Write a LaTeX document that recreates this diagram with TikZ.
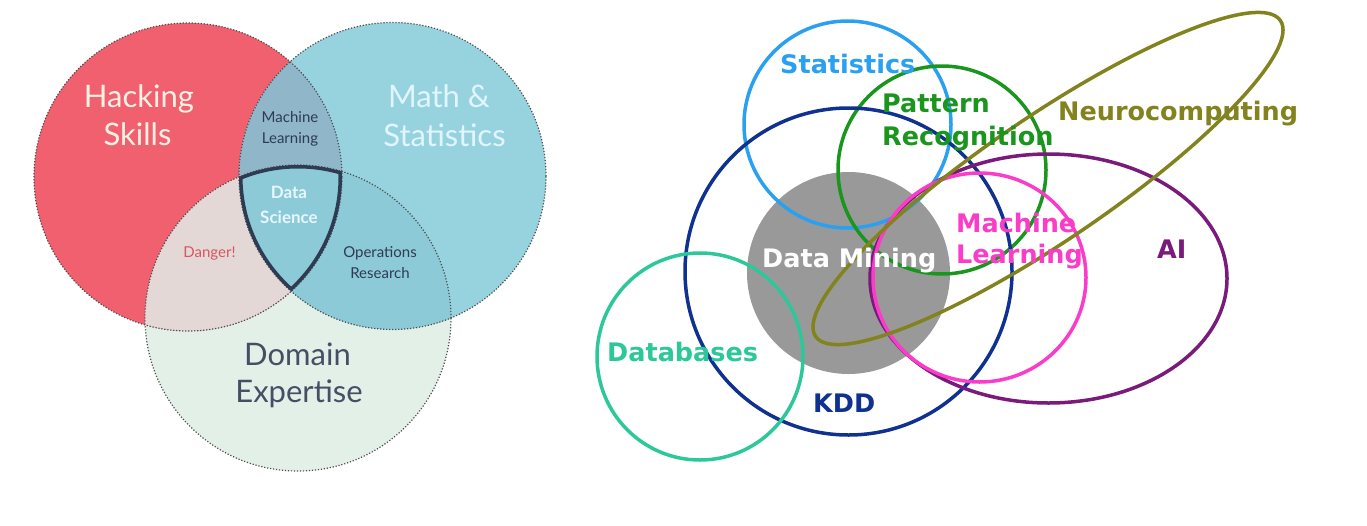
\documentclass[tikz,border=0pt]{standalone}
\usepackage{fontspec}
\newfontfamily\vennfont{Lato}
\newfontfamily\kddfont{DejaVu Sans}
\usetikzlibrary{positioning}

\definecolor{hackred}{HTML}{F0606E}
\definecolor{mathblue}{HTML}{97D3DF}
\definecolor{domgreen}{HTML}{E3F0E8}
\definecolor{mlgrey}{HTML}{8FB6C9}
\definecolor{dangergrey}{HTML}{E3D8D5}
\definecolor{orblue}{HTML}{8CCAD8}
\definecolor{inkblue}{HTML}{2F3B52}
\definecolor{statblue}{HTML}{2AA0F0}
\definecolor{patgreen}{HTML}{1A961E}
\definecolor{kddblue}{HTML}{0F3291}
\definecolor{dbteal}{HTML}{2CC89A}
\definecolor{mlpink}{HTML}{FA3CC8}
\definecolor{aipurple}{HTML}{7A1A7A}
\definecolor{neuroolive}{HTML}{82821E}

\begin{document}
\begin{tikzpicture}[x=1pt,y=-1pt,
    venn/.style={draw=black!70,dash pattern=on 1.2pt off 1.8pt,line width=1.2pt},
    big/.style={font=\vennfont\fontsize{31}{31}\selectfont,inner sep=0pt,anchor=base},
    small/.style={font=\vennfont\fontsize{15}{15}\selectfont,inner sep=0pt,anchor=base,text=inkblue},
    ring/.style={line width=3.5pt},
    tag/.style={font=\kddfont\bfseries\fontsize{25.5}{25.5}\selectfont,inner sep=0pt,anchor=base west}]

    \fill[white] (0,0) rectangle (1367,525);
    \useasboundingbox (0,0) rectangle (1367,525);

    % left: the data science venn
    \coordinate (hc) at (188,177);
    \coordinate (mc) at (392.5,176);
    \coordinate (dc) at (298,318);

    \fill[domgreen] (dc) circle[radius=153pt];
    \fill[hackred] (hc) circle[radius=154pt];
    \fill[mathblue] (mc) circle[radius=153.5pt];

    \begin{scope}
        \clip (hc) circle[radius=154pt];
        \fill[mlgrey] (mc) circle[radius=153.5pt];
        \fill[dangergrey] (dc) circle[radius=153pt];
        \clip (mc) circle[radius=153.5pt];
        \fill[orblue] (dc) circle[radius=153pt];
    \end{scope}
    \begin{scope}
        \clip (mc) circle[radius=153.5pt];
        \clip (dc) circle[radius=153pt];
        \fill[orblue] (mc) circle[radius=153.5pt];
    \end{scope}

    \draw[venn] (hc) circle[radius=154pt];
    \draw[venn] (mc) circle[radius=153.5pt];
    \draw[venn] (dc) circle[radius=153pt];

    \begin{scope}
        \clip (mc) circle[radius=153.5pt];
        \clip (dc) circle[radius=153pt];
        \clip (hc) circle[radius=154pt];
        \draw[inkblue,line width=7pt] (hc) circle[radius=154pt]
                                      (mc) circle[radius=153.5pt]
                                      (dc) circle[radius=153pt];
    \end{scope}

    \node[big,text=white!90!orange] (hack) at (139,107) {Hacking};
    \node[big,text=white!90!orange] (skills) at (137.5,145) {Skills};
    \node[big,text=white!88!cyan] (math) at (439,107) {Math \&};
    \node[big,text=white!88!cyan] (stats) at (444.5,146) {Statistics};
    \node[big,text=inkblue!90!white] (domain) at (297.5,365) {Domain};
    \node[big,text=inkblue!90!white] (expert) at (299,402) {Expertise};

    \node[small] (mach) at (290,122) {Machine};
    \node[small] (learn) at (290,143) {Learning};
    \node[small,font=\vennfont\bfseries\fontsize{17}{17}\selectfont,text=white!90!cyan] (data) at (289,198) {Data};
    \node[small,font=\vennfont\bfseries\fontsize{17}{17}\selectfont,text=white!90!cyan] (science) at (289,223) {Science};
    \node[small,text=hackred!90!black] (danger) at (209.5,257) {Danger!};
    \node[small] (ops) at (380,257) {Operations};
    \node[small] (research) at (380,278) {Research};

    % right: data mining and its neighbours
    \fill[black!40] (848.5,273) ellipse[x radius=101.5pt,y radius=101pt];

    \draw[ring,statblue] (847.5,124.5) circle[radius=103.5pt];
    \draw[ring,patgreen] (942,170) circle[radius=104pt];
    \draw[ring,kddblue] (848.5,271.5) circle[radius=163.5pt];
    \draw[ring,dbteal] (700,356.5) ellipse[x radius=103pt,y radius=103.5pt];
    \draw[ring,aipurple] (1048.5,278.5) ellipse[x radius=178.5pt,y radius=124.5pt];
    \draw[ring,mlpink] (979.5,277.5) ellipse[x radius=106.5pt,y radius=104.5pt];
    \draw[ring,neuroolive,shift={(1048,178.5)},rotate=34.2] (0,0) ellipse[x radius=281pt,y radius=62pt];

    \node[tag,text=statblue] (statistics) at (780,73) {Statistics};
    \node[tag,text=patgreen] (pattern) at (882,112) {Pattern};
    \node[tag,text=patgreen] (recog) at (882,145) {Recognition};
    \node[tag,text=neuroolive] (neuro) at (1058,120) {Neurocomputing};
    \node[tag,text=mlpink] (machine) at (956,232) {Machine};
    \node[tag,text=mlpink] (learning) at (956,263) {Learning};
    \node[tag,text=aipurple] (ai) at (1157,258) {AI};
    \node[tag,text=white] (mining) at (762,267) {Data Mining};
    \node[tag,text=dbteal] (databases) at (607,361) {Databases};
    \node[tag,text=kddblue] (kdd) at (813,412) {KDD};

\end{tikzpicture}
\end{document}
